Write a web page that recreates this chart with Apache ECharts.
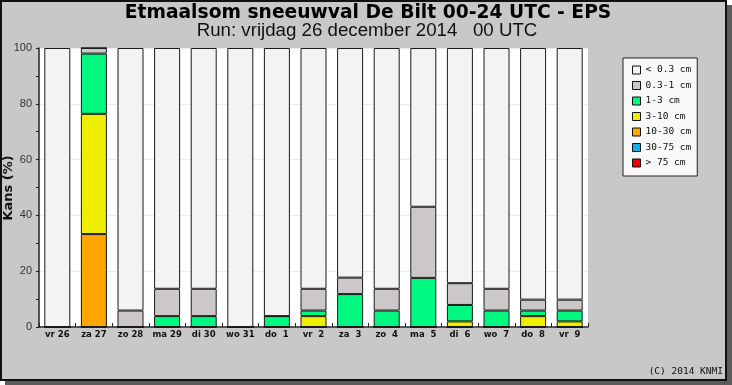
<!DOCTYPE html>
<html>
<head>
<meta charset="utf-8">
<script src="https://cdn.jsdelivr.net/npm/echarts@6/dist/echarts.min.js"></script>
<style>html,body{margin:0;padding:0;background:#fff;}#c{width:732px;height:385px;}</style>
</head>
<body>
<div id="c"></div>
<script>
// ---- data (percent of ensemble members) ----
var categories = ['vr 26','za 27','zo 28','ma 29','di 30','wo 31','do  1','vr  2','za  3','zo  4','ma  5','di  6','wo  7','do  8','vr  9'];
var legendNames = ['< 0.3 cm','0.3-1 cm','1-3 cm','3-10 cm','10-30 cm','30-75 cm','> 75 cm'];
var over75   = [0,0,0,0,0,0,0,0,0,0,0,0,0,0,0];
var cm30_75  = [0,0,0,0,0,0,0,0,0,0,0,0,0,0,0];
var cm10_30  = [0,33.3,0,0,0,0,0,0,0,0,0,0,0,0,0];
var cm3_10   = [0,43.1,0,0,0,0,0,3.9,0,0,0,2.0,0,3.9,2.0];
var cm1_3    = [0,21.6,0,3.9,3.9,0,3.9,2.0,11.8,5.9,17.6,5.9,5.9,2.0,3.9];
var cm03_1   = [0,2.0,5.9,9.8,9.8,0,0,7.8,5.9,7.8,25.5,7.8,7.8,3.9,3.9];
var under03  = [100,0,94.1,86.3,86.3,100,96.1,86.3,82.3,86.3,56.9,84.3,86.3,90.2,90.2];
var yTicks = [0,20,40,60,80,100];

var colors = {
  '< 0.3 cm':'#f3f3f3','0.3-1 cm':'#ccc8c8','1-3 cm':'#00f880','3-10 cm':'#eeee00',
  '10-30 cm':'#ffa500','30-75 cm':'#10b0f0','> 75 cm':'#f00000'
};
var stackOrder = [['> 75 cm',over75],['30-75 cm',cm30_75],['10-30 cm',cm10_30],['3-10 cm',cm3_10],['1-3 cm',cm1_3],['0.3-1 cm',cm03_1],['< 0.3 cm',under03]];

var series = stackOrder.map(function(s){
  return {
    name: s[0], type:'bar', stack:'all', data: s[1], barWidth: 26,
    itemStyle:{color: colors[s[0]], borderColor:'#1a1a1a', borderWidth:1},
    emphasis:{disabled:true}, animation:false
  };
});

var chart = echarts.init(document.getElementById('c'), null, {renderer:'canvas'});
chart.setOption({
  animation:false,
  backgroundColor:'#ffffff',
  graphic:[
    {type:'rect', z:-100, shape:{x:727,y:5,width:5,height:380}, style:{fill:'#5c5c5c'}},
    {type:'rect', z:-100, shape:{x:5,y:381,width:727,height:4}, style:{fill:'#5c5c5c'}},
    {type:'rect', z:-99, shape:{x:1,y:1,width:725,height:379}, style:{fill:'#c8c8c8', stroke:'#111', lineWidth:2}},
    {type:'text', z:10, x:368, y:13, style:{text:'Etmaalsom sneeuwval De Bilt 00-24 UTC - EPS', font:'bold 18.7px "DejaVu Sans"', fill:'#000', textAlign:'center', textVerticalAlign:'middle'}},
    {type:'text', z:10, x:367, y:31, style:{text:'Run: vrijdag 26 december 2014   00 UTC', font:'18.7px "Liberation Sans"', fill:'#111', textAlign:'center', textVerticalAlign:'middle'}},
    {type:'text', z:10, x:9, y:188, rotation:Math.PI/2, style:{text:'Kans (%)', font:'bold 13px "DejaVu Sans"', fill:'#111', textAlign:'center', textVerticalAlign:'middle'}},
    {type:'text', z:10, x:723, y:372, style:{text:'(C) 2014 KNMI', font:'9.5px "DejaVu Sans Mono"', fill:'#111', textAlign:'right', textVerticalAlign:'middle'}}
  ],
  grid:{left:39, right:144, top:48, bottom:58, show:true, backgroundColor:'#ffffff', borderWidth:0},
  legend:{
    data: legendNames, orient:'vertical', left:623, top:58,
    padding:[7,6,8,9], itemWidth:8, itemHeight:8, itemGap:5.5, icon:'rect',
    backgroundColor:'#f8f8f8', borderColor:'#222', borderWidth:1, borderRadius:0,
    itemStyle:{borderColor:'#111', borderWidth:1},
    textStyle:{fontFamily:'"DejaVu Sans Mono"', fontSize:9.5, color:'#111', lineHeight:10},
    selectedMode:false
  },
  xAxis:{
    type:'category', data: categories, boundaryGap:true,
    axisLine:{lineStyle:{color:'#222', width:1.5}},
    axisTick:{show:true, inside:true, length:4, interval:0, lineStyle:{color:'#222'}},
    axisLabel:{interval:0, margin:3, fontFamily:'"DejaVu Sans"', fontWeight:'bold', fontSize:8.5, color:'#111'}
  },
  yAxis:{
    type:'value', min:yTicks[0], max:yTicks[yTicks.length-1], interval:20,
    axisLine:{show:true, lineStyle:{color:'#222', width:1.5}},
    axisTick:{show:true, length:3, lineStyle:{color:'#222'}},
    minorTick:{show:true, splitNumber:2, length:3, lineStyle:{color:'#222'}},
    splitLine:{show:true, lineStyle:{color:'#ececec', width:1}},
    axisLabel:{margin:7, fontFamily:'"Liberation Sans"', fontSize:11, color:'#333'}
  },
  series: series
});
</script>
</body>
</html>
